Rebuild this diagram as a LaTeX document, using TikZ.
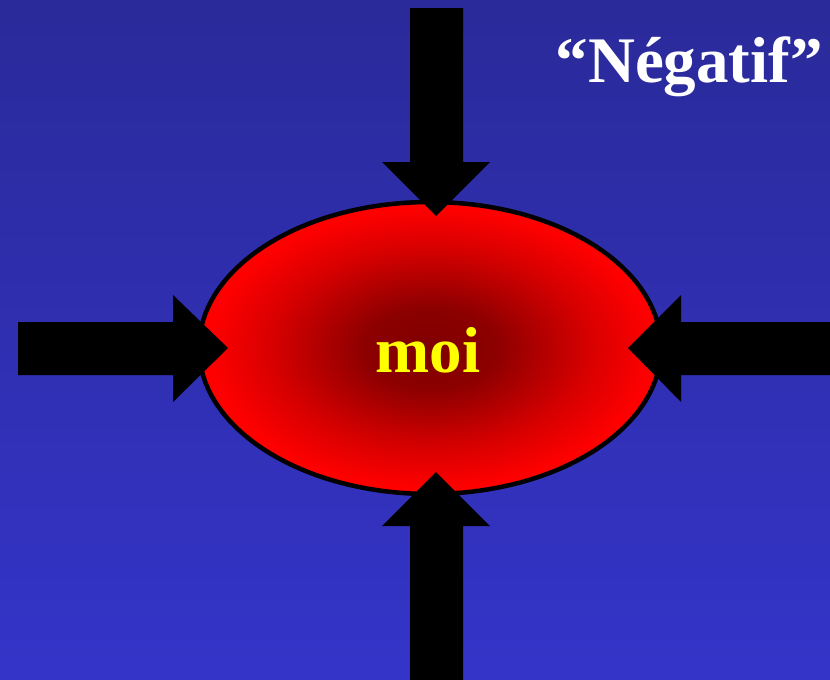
\documentclass[tikz,border=0pt]{standalone}
\usepackage{fontspec}
\setmainfont{Liberation Serif}
\usetikzlibrary{shapes.geometric}
\definecolor{bgtop}{HTML}{2A2A9A}
\definecolor{bgbot}{HTML}{3434C9}
\definecolor{moiyellow}{HTML}{FFFF00}
\pgfdeclareradialshading{egg}{\pgfpoint{0bp}{0bp}}{%
  color(0bp)=(red!50!black);
  color(7bp)=(red!55!black);
  color(17bp)=(red!84!black);
  color(24bp)=(red);
  color(50bp)=(red)}
\tikzset{
  bigarrow/.style={fill=black, draw=none},
  bigtext/.style={font=\fontsize{65}{70}\selectfont\bfseries, inner sep=0pt}
}
\begin{document}
\begin{tikzpicture}[x=1pt,y=-1pt]
\useasboundingbox (0,0) rectangle (830,680);
\shade[top color=bgtop, bottom color=bgbot] (0,0) rectangle (830,680);
\node[ellipse, draw=black, line width=4.5pt, shading=egg,
      minimum width=462pt, minimum height=292pt, inner sep=0pt] (moi) at (430,348) {};
\node[bigtext, text=moiyellow, anchor=base] (moilabel) at (428,372) {moi};
\node[bigtext, text=white, anchor=base east] (title) at (823,82) {``Négatif''};
% top arrow
\fill[bigarrow] (410,8) -- (463,8) -- (463,162) -- (490,162) -- (436,216) -- (382,162) -- (410,162) -- cycle;
% bottom arrow
\fill[bigarrow] (410,680) -- (463,680) -- (463,526) -- (490,526) -- (436,472) -- (382,526) -- (410,526) -- cycle;
% left arrow
\fill[bigarrow] (18,322) -- (173,322) -- (173,295) -- (228,348) -- (173,402) -- (173,375) -- (18,375) -- cycle;
% right arrow
\fill[bigarrow] (830,322) -- (681,322) -- (681,295) -- (628,348) -- (681,402) -- (681,375) -- (830,375) -- cycle;
\end{tikzpicture}
\end{document}
